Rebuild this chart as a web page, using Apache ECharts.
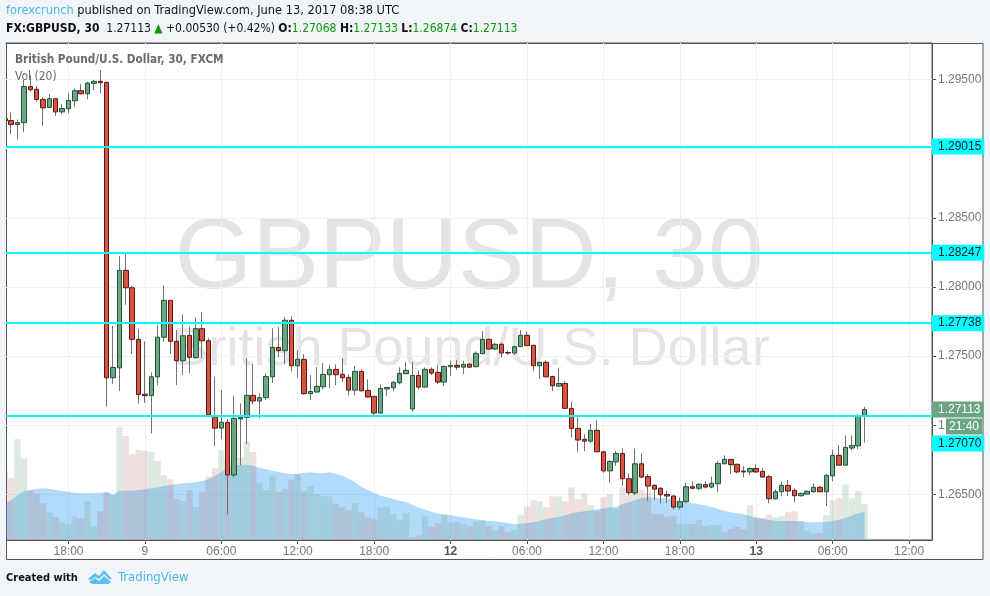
<!DOCTYPE html>
<html>
<head>
	<meta charset="UTF-8">
	<title>GBPUSD, 30</title>
	<script src="https://cdn.jsdelivr.net/npm/echarts@6/dist/echarts.min.js"></script>
	<style>
		html, body { margin: 0; padding: 0; background: #f1f4f8; }
		#main { width: 990px; height: 596px; }
	</style>
</head>
<body>
<div id="main"></div>
<script type="text/javascript">
    // one entry per 30 minute bar, bar 0 is clipped by the left edge
    var opens = [
        1.29217, 1.29203, 1.29174, 1.29188, 1.29449, 1.29429, 1.29356, 1.29298, 1.29361, 1.29266,
        1.29288, 1.29346, 1.29419, 1.29397, 1.29472, 1.29487, 1.29479, 1.27343, 1.27415, 1.28120,
        1.27994, 1.27621, 1.27224, 1.27214, 1.27350, 1.27636, 1.27903, 1.27607, 1.27466, 1.27650,
        1.27488, 1.27698, 1.27611, 1.27061, 1.26979, 1.27021, 1.26640, 1.27045, 1.27057, 1.27216,
        1.27175, 1.27199, 1.27350, 1.27563, 1.27539, 1.27759, 1.27430, 1.27476, 1.27228, 1.27240,
        1.27278, 1.27365, 1.27404, 1.27368, 1.27346, 1.27254, 1.27389, 1.27252, 1.27209, 1.27088,
        1.27263, 1.27271, 1.27307, 1.27372, 1.27117, 1.27360, 1.27276, 1.27404, 1.27382, 1.27312,
        1.27423, 1.27433, 1.27420, 1.27442, 1.27423, 1.27517, 1.27621, 1.27551, 1.27585, 1.27526,
        1.27522, 1.27568, 1.27650, 1.27578, 1.27430, 1.27455, 1.27353, 1.27283, 1.27302, 1.27122,
        1.26977, 1.26898, 1.26885, 1.26963, 1.26808, 1.26670, 1.26735, 1.26796, 1.26613, 1.26510,
        1.26721, 1.26628, 1.26565, 1.26544, 1.26500, 1.26488, 1.26408, 1.26447, 1.26555, 1.26544,
        1.26570, 1.26553, 1.26577, 1.26721, 1.26753, 1.26717, 1.26669, 1.26662, 1.26687, 1.26666,
        1.26628, 1.26468, 1.26519, 1.26565, 1.26529, 1.26490, 1.26502, 1.26519, 1.26551, 1.26519,
        1.26633, 1.26782, 1.26711, 1.26835, 1.26851, 1.27068
    ];
    var closes = [
        1.29203, 1.29174, 1.29188, 1.29449, 1.29426, 1.29356, 1.29295, 1.29361, 1.29266, 1.29291,
        1.29349, 1.29419, 1.29397, 1.29474, 1.29487, 1.29477, 1.27343, 1.27418, 1.28120, 1.27994,
        1.27621, 1.27221, 1.27214, 1.27350, 1.27636, 1.27903, 1.27607, 1.27466, 1.27647, 1.27491,
        1.27698, 1.27611, 1.27074, 1.26979, 1.27021, 1.26640, 1.27050, 1.27057, 1.27216, 1.27175,
        1.27199, 1.27353, 1.27563, 1.27539, 1.27759, 1.27430, 1.27476, 1.27228, 1.27244, 1.27281,
        1.27368, 1.27404, 1.27365, 1.27343, 1.27254, 1.27389, 1.27249, 1.27204, 1.27088, 1.27266,
        1.27273, 1.27310, 1.27375, 1.27397, 1.27360, 1.27276, 1.27404, 1.27377, 1.27312, 1.27425,
        1.27433, 1.27420, 1.27440, 1.27420, 1.27520, 1.27621, 1.27551, 1.27585, 1.27522, 1.27522,
        1.27568, 1.27650, 1.27575, 1.27430, 1.27455, 1.27350, 1.27285, 1.27302, 1.27122, 1.26977,
        1.26893, 1.26885, 1.26963, 1.26808, 1.26670, 1.26738, 1.26796, 1.26613, 1.26512, 1.26721,
        1.26625, 1.26560, 1.26538, 1.26497, 1.26488, 1.26408, 1.26447, 1.26555, 1.26544, 1.26573,
        1.26553, 1.26580, 1.26724, 1.26753, 1.26714, 1.26662, 1.26662, 1.26687, 1.26662, 1.26625,
        1.26468, 1.26519, 1.26565, 1.26524, 1.26490, 1.26507, 1.26522, 1.26551, 1.26519, 1.26638,
        1.26782, 1.26711, 1.26840, 1.26854, 1.27066, 1.27113
    ];
    var lows = [
        1.29192, 1.29105, 1.29069, 1.29119, 1.29413, 1.29339, 1.29165, 1.29295, 1.29237, 1.29250,
        1.29257, 1.29301, 1.29392, 1.29358, 1.29424, 1.29402, 1.27134, 1.27300, 1.27247, 1.27871,
        1.27515, 1.27156, 1.27161, 1.26941, 1.27290, 1.27604, 1.27515, 1.27290, 1.27363, 1.27375,
        1.27481, 1.27484, 1.27066, 1.26849, 1.26898, 1.26357, 1.26623, 1.26711, 1.26864, 1.27151,
        1.27050, 1.27182, 1.27305, 1.27491, 1.27442, 1.27389, 1.27346, 1.27221, 1.27182, 1.27238,
        1.27259, 1.27268, 1.27290, 1.27314, 1.27216, 1.27216, 1.27244, 1.27199, 1.27061, 1.27081,
        1.27211, 1.27247, 1.27297, 1.27370, 1.27098, 1.27259, 1.27273, 1.27363, 1.27297, 1.27283,
        1.27355, 1.27401, 1.27370, 1.27413, 1.27418, 1.27513, 1.27544, 1.27544, 1.27488, 1.27510,
        1.27513, 1.27565, 1.27575, 1.27391, 1.27334, 1.27348, 1.27247, 1.27276, 1.27117, 1.26912,
        1.26808, 1.26813, 1.26873, 1.26803, 1.26657, 1.26584, 1.26706, 1.26560, 1.26493, 1.26495,
        1.26616, 1.26454, 1.26459, 1.26435, 1.26439, 1.26391, 1.26391, 1.26442, 1.26536, 1.26531,
        1.26544, 1.26544, 1.26515, 1.26719, 1.26647, 1.26652, 1.26623, 1.26638, 1.26657, 1.26623,
        1.26435, 1.26464, 1.26488, 1.26488, 1.26444, 1.26483, 1.26495, 1.26512, 1.26515, 1.26415,
        1.26594, 1.26709, 1.26709, 1.26820, 1.26827, 1.26874
    ];
    var highs = [
        1.29228, 1.29261, 1.29210, 1.29496, 1.29532, 1.29453, 1.29375, 1.29395, 1.29361, 1.29322,
        1.29402, 1.29436, 1.29467, 1.29484, 1.29496, 1.29569, 1.29485, 1.27720, 1.28224, 1.28236,
        1.28009, 1.27696, 1.27607, 1.27382, 1.27725, 1.28012, 1.27905, 1.27689, 1.27801, 1.27712,
        1.27780, 1.27818, 1.27631, 1.27350, 1.27254, 1.27045, 1.27211, 1.27158, 1.27484, 1.27442,
        1.27231, 1.27375, 1.27701, 1.27710, 1.27782, 1.27789, 1.27541, 1.27513, 1.27363, 1.27420,
        1.27449, 1.27435, 1.27440, 1.27484, 1.27363, 1.27428, 1.27404, 1.27331, 1.27211, 1.27295,
        1.27278, 1.27321, 1.27418, 1.27457, 1.27459, 1.27397, 1.27418, 1.27418, 1.27435, 1.27433,
        1.27466, 1.27471, 1.27466, 1.27447, 1.27534, 1.27681, 1.27626, 1.27594, 1.27599, 1.27539,
        1.27575, 1.27689, 1.27679, 1.27578, 1.27459, 1.27469, 1.27357, 1.27411, 1.27317, 1.27170,
        1.27066, 1.26936, 1.27008, 1.27037, 1.26815, 1.26748, 1.26815, 1.26832, 1.26652, 1.26832,
        1.26796, 1.26647, 1.26575, 1.26551, 1.26526, 1.26495, 1.26478, 1.26584, 1.26594, 1.26580,
        1.26594, 1.26628, 1.26740, 1.26782, 1.26753, 1.26724, 1.26704, 1.26695, 1.26717, 1.26692,
        1.26640, 1.26536, 1.26591, 1.26604, 1.26544, 1.26512, 1.26529, 1.26580, 1.26560, 1.26647,
        1.26825, 1.26856, 1.26927, 1.26927, 1.27079, 1.27133
    ];
    var volumes = [
        680, 607, 997, 807, 483, 457, 357, 267, 220, 167,
        150, 227, 207, 377, 127, 277, 467, 440, 1117, 1030,
        847, 890, 880, 870, 780, 637, 597, 400, 380, 490,
        320, 470, 627, 707, 887, 797, 817, 817, 977, 870,
        567, 490, 627, 470, 500, 590, 650, 477, 530, 450,
        430, 423, 350, 317, 290, 360, 267, 217, 197, 317,
        327, 250, 187, 257, 17, 37, 227, 127, 157, 250,
        167, 167, 147, 127, 177, 187, 127, 90, 127, 70,
        90, 237, 327, 387, 377, 317, 427, 427, 377, 517,
        397, 457, 337, 280, 417, 447, 300, 517, 437, 457,
        487, 463, 250, 250, 223, 233, 150, 150, 150, 190,
        130, 140, 140, 70, 100, 120, 100, 337, 210, 210,
        247, 217, 230, 267, 277, 180, 80, 60, 60, 237,
        387, 407, 547, 407, 477, 347
    ];
    var volumeAvg = [
        357, 387, 440, 477, 490, 500, 507, 500, 490, 480,
        473, 463, 457, 457, 460, 463, 467, 443, 483, 483,
        483, 490, 497, 507, 517, 530, 540, 547, 557, 560,
        570, 580, 597, 630, 670, 710, 733, 743, 743, 733,
        713, 697, 683, 670, 657, 650, 650, 663, 667, 660,
        657, 667, 653, 633, 603, 567, 520, 490, 460, 433,
        417, 400, 383, 370, 340, 313, 293, 273, 253, 243,
        237, 227, 217, 207, 197, 187, 180, 177, 170, 157,
        147, 153, 157, 167, 183, 200, 213, 220, 237, 257,
        267, 277, 287, 297, 303, 317, 320, 350, 367, 390,
        410, 417, 413, 410, 407, 393, 380, 370, 357, 347,
        337, 320, 300, 280, 267, 257, 247, 230, 217, 203,
        190, 183, 180, 180, 180, 177, 170, 167, 167, 170,
        180, 193, 210, 233, 257, 273
    ];

    var timeTicks = [10, 22, 34, 46, 58, 70, 82, 94, 106, 118, 130, 142];
    var timeLabels = ['18:00', '9', '06:00', '12:00', '18:00', '12', '06:00', '12:00', '18:00', '13', '06:00', '12:00'];
    var boldLabels = ['12', '13'];
    var priceTicks = [1.265, 1.27, 1.275, 1.28, 1.285, 1.29, 1.295];
    var levels = [1.29015, 1.28247, 1.27738, 1.2707];
    var lastPrice = 1.27113;
    var countdown = '21:40';

    var UP = '#6ba583', DOWN = '#d75442';
    var font = 'Liberation Sans';
    var headFont = 'DejaVu Sans Condensed';

    var wicks = opens.map(function (o, i) {
        return [i, o, closes[i], lows[i], highs[i]];
    });
    // second candlestick layer has no wick so the body keeps its dark border
    var bodies = opens.map(function (o, i) {
        return [i, o, closes[i], Math.min(o, closes[i]), Math.max(o, closes[i])];
    });
    var volumeBars = volumes.map(function (v, i) {
        return {
            value: [i, v],
            itemStyle: {color: closes[i] >= opens[i] ? 'rgba(107,165,131,0.24)' : 'rgba(170,100,90,0.2)'}
        };
    });
    var avgLine = volumeAvg.map(function (v, i) {
        return [i, v];
    });

    function tag(value, text, bg, color, offset, padding) {
        var isLevel = bg === '#00ffff';
        return {
            yAxis: value,
            lineStyle: {color: isLevel ? '#00ffff' : 'rgba(0,0,0,0)', width: isLevel ? 2 : 1, type: 'solid', opacity: 1},
            label: {
                show: true,
                position: 'end',
                distance: 0,
                formatter: text,
                offset: offset || [0, 0],
                backgroundColor: bg,
                color: color,
                fontFamily: font,
                fontSize: 12,
                padding: padding || [2, 3, 2, 6],
                lineHeight: 12
            }
        };
    }

    var lineTags = levels.map(function (v, i) {
        return tag(v, v.toFixed(5), '#00ffff', '#222', i === 3 ? [0, 28] : [0, 0]);
    });
    lineTags.push(tag(lastPrice, lastPrice.toFixed(5), UP, '#fff'));
    lineTags.push(tag(lastPrice, countdown, UP, '#fff', [14, 17], [2, 3, 2, 3]));

    var myChart = echarts.init(document.getElementById('main'));

    myChart.setOption({
        animation: false,
        backgroundColor: '#f1f4f8',
        grid: {left: 6, right: 58, top: 43, bottom: 56, show: true, borderColor: '#555', borderWidth: 1, z: 0},
        xAxis: {
            type: 'value',
            min: 0.188,
            max: 145.6,
            axisLine: {show: true, onZero: false, lineStyle: {color: '#555'}},
            axisTick: {show: true, customValues: timeTicks, length: 4, lineStyle: {color: '#555'}},
            axisLabel: {
                customValues: timeTicks,
                color: '#777',
                fontFamily: font,
                fontSize: 12,
                margin: 6,
                formatter: function (value) {
                    var text = timeLabels[timeTicks.indexOf(value)];
                    return boldLabels.indexOf(text) >= 0 ? '{b|' + text + '}' : text;
                },
                rich: {b: {fontWeight: 'bold', color: '#555', fontFamily: font, fontSize: 12}}
            },
            splitLine: {show: true, lineStyle: {color: '#f0f0f0'}}
        },
        yAxis: [
            {
                type: 'value',
                position: 'right',
                min: 1.2617,
                max: 1.29764,
                scale: true,
                axisLine: {show: true, onZero: false, lineStyle: {color: '#555'}},
                axisTick: {show: true, customValues: priceTicks, length: 4, lineStyle: {color: '#555'}},
                axisLabel: {
                    customValues: priceTicks,
                    color: '#777',
                    fontFamily: font,
                    fontSize: 12,
                    margin: 6,
                    padding: [6, 0, 0, 0],
                    formatter: function (value) {
                        return value.toFixed(5);
                    }
                },
                splitLine: {show: true, lineStyle: {color: '#f0f0f0'}}
            },
            {
                type: 'value',
                position: 'left',
                min: -10,
                max: 4960,
                show: false,
                splitLine: {show: false}
            }
        ],
        series: [
            {
                type: 'bar',
                yAxisIndex: 1,
                data: volumeBars,
                barWidth: 6.3,
                z: 1
            },
            {
                type: 'line',
                yAxisIndex: 1,
                data: avgLine,
                showSymbol: false,
                lineStyle: {width: 0},
                areaStyle: {color: '#2196f3', opacity: 0.35},
                z: 1
            },
            {
                type: 'candlestick',
                data: wicks,
                barWidth: 1,
                itemStyle: {color: '#737375', color0: '#737375', borderColor: '#737375', borderColor0: '#737375', borderWidth: 1},
                z: 3
            },
            {
                type: 'candlestick',
                data: bodies,
                barWidth: 5,
                itemStyle: {color: UP, color0: DOWN, borderColor: '#225437', borderColor0: '#5b1a13', borderWidth: 1},
                markLine: {
                    silent: true,
                    symbol: 'none',
                    precision: 5,
                    animation: false,
                    data: lineTags
                },
                z: 4
            }
        ],
        graphic: [
            {
                type: 'rect', z: -2,
                shape: {x: 6.5, y: 43.5, width: 976.5, height: 516},
                style: {fill: '#fff', stroke: '#555', lineWidth: 1}
            },
            // bar 0 hangs over the left edge, page colour hides that part
            {
                type: 'rect', z: 20,
                shape: {x: 0, y: 44, width: 6, height: 515},
                style: {fill: '#f1f4f8'}
            },
            {
                type: 'text', z: -1, x: 469, y: 310,
                style: {text: 'GBPUSD, 30', fill: '#e4e4e4', font: '100px "Liberation Sans"', textAlign: 'center', textVerticalAlign: 'bottom'}
            },
            {
                type: 'text', z: -1, x: 471, y: 377,
                style: {text: 'British Pound/U.S. Dollar', fill: '#e4e4e4', font: '54px "Liberation Sans"', textAlign: 'center', textVerticalAlign: 'bottom'}
            },
            {
                type: 'text', z: 10, x: 15, y: 60,
                style: {text: 'British Pound/U.S. Dollar, 30, FXCM', fill: '#6b6b6b', font: 'bold 11.7px "' + headFont + '"', textVerticalAlign: 'middle'}
            },
            {
                type: 'text', z: 10, x: 15, y: 77,
                style: {text: 'Vol (20)', fill: '#6b6b6b', font: '12px "' + headFont + '"', textVerticalAlign: 'middle'}
            },
            {
                type: 'text', z: 10, x: 6, y: 11,
                style: {
                    text: '{a|forexcrunch} published on TradingView.com, June 13, 2017 08:38 UTC',
                    fill: '#111', font: '12.7px "' + headFont + '"', textVerticalAlign: 'middle',
                    rich: {a: {fill: '#4db6e8', font: '12.7px "' + headFont + '"'}}
                }
            },
            {
                type: 'text', z: 10, x: 6, y: 29,
                style: {
                    text: '{b|FX:GBPUSD, 30}  1.27113 {t|▲} +0.00530 (+0.42%) {b|O:}{g|1.27068} {b|H:}{g|1.27133} {b|L:}{g|1.26874} {b|C:}{g|1.27113}',
                    fill: '#111', font: '12px "' + headFont + '"', textVerticalAlign: 'middle',
                    rich: {
                        b: {fill: '#111', font: 'bold 12px "' + headFont + '"'},
                        g: {fill: '#0a9a0a', font: '12px "' + headFont + '"'},
                        t: {fill: '#0a9a0a', font: '12px "' + headFont + '"'}
                    }
                }
            },
            {
                type: 'text', z: 10, x: 6, y: 578,
                style: {text: 'Created with', fill: '#111', font: 'bold 11px "' + headFont + '"', textVerticalAlign: 'middle'}
            },
            {
                type: 'polygon', z: 10, x: 88, y: 570,
                shape: {points: [[0, 9], [7, 3], [11, 6], [16, 0], [24, 9], [21, 9], [16, 4], [11, 9], [7, 7], [3, 10]]},
                style: {fill: '#5bc0e8'}
            },
            {
                type: 'polygon', z: 10, x: 88, y: 570,
                shape: {points: [[1, 12], [7, 8], [11, 11], [16, 6], [23, 12], [20, 14], [4, 14]]},
                style: {fill: '#5bc0e8'}
            },
            {
                type: 'text', z: 10, x: 118, y: 578,
                style: {text: 'TradingView', fill: '#4db6e8', font: '13px "' + headFont + '"', textVerticalAlign: 'middle'}
            }
        ]
    });
</script>
</body>
</html>
